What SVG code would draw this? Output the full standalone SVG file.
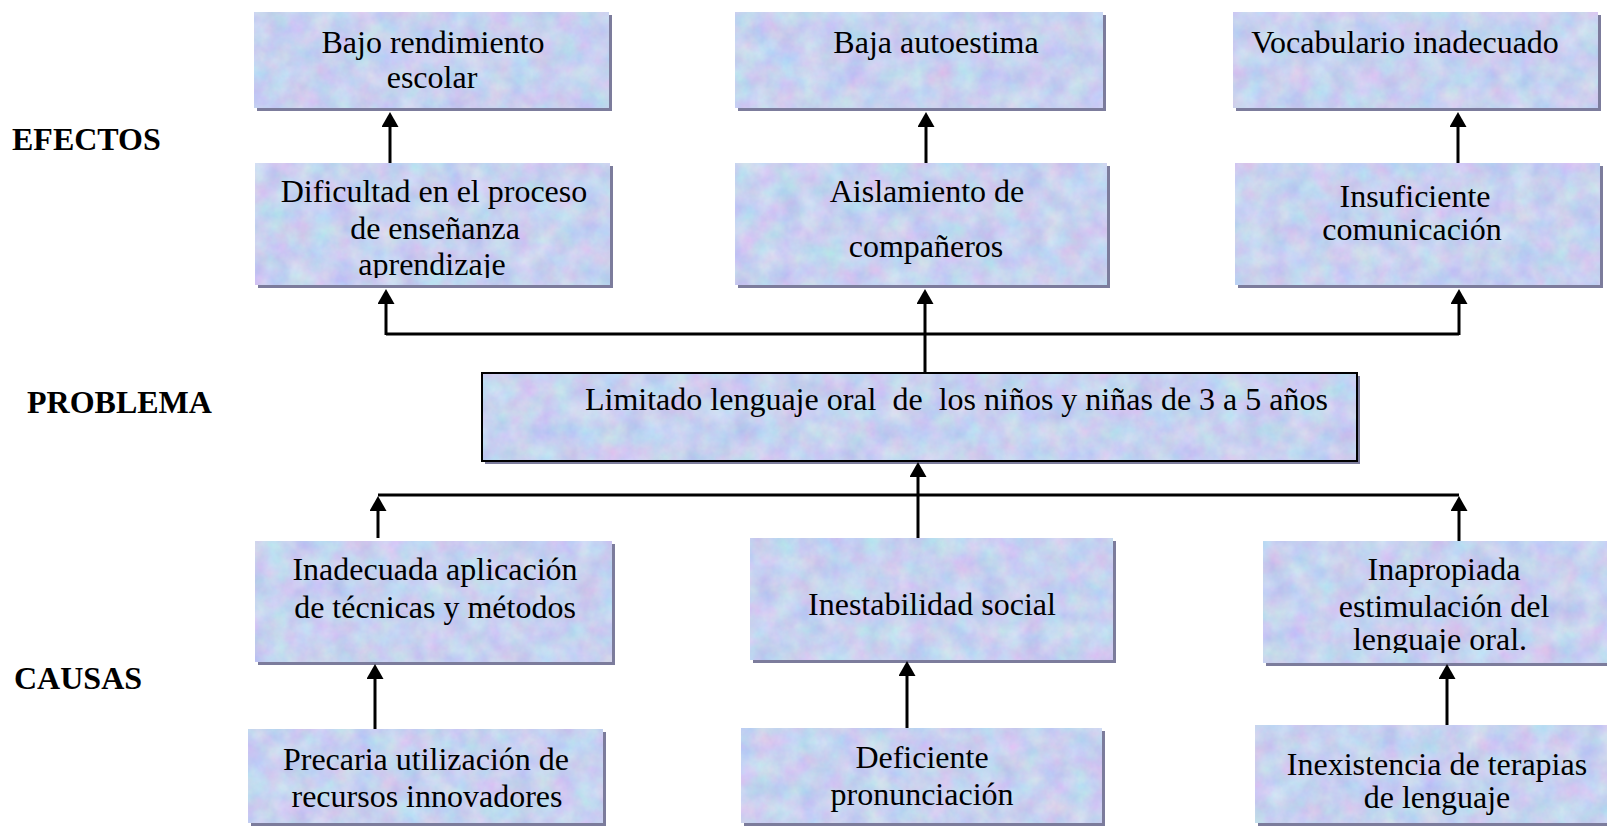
<svg xmlns="http://www.w3.org/2000/svg" width="1607" height="829" viewBox="0 0 1607 829">
<style>
.sh{fill:#7c7c9c}
.bx{stroke:#dcdcf6;stroke-width:1.5}
.pb{stroke:#000;stroke-width:2}
.t{font-family:"Liberation Serif","Times New Roman",serif;font-size:32px;fill:#000;text-anchor:middle}
.lb{font-family:"Liberation Serif","Times New Roman",serif;font-size:32px;font-weight:bold;fill:#000}
.ln{fill:none;stroke:#000;stroke-width:3}
.ar{fill:none;stroke:#000;stroke-width:3;marker-end:url(#ah)}
</style>
<defs>
<filter id="tex" filterUnits="objectBoundingBox" x="0" y="0" width="1" height="1" color-interpolation-filters="sRGB">
<feTurbulence type="fractalNoise" baseFrequency="0.045" numOctaves="4" seed="7"/>
<feColorMatrix type="matrix" values="0.22 0 0 0 0.67  0 0.2 0 0 0.72  0 0 0.08 0 0.9  0 0 0 0 1"/>
<feComposite in2="SourceGraphic" operator="in"/>
</filter>
<marker id="ah" markerUnits="userSpaceOnUse" markerWidth="15" markerHeight="17" viewBox="0 0 15 17" refX="4" refY="8.5" orient="auto">
<path d="M0,0 L15,8.5 L0,17 z" fill="#000"/>
</marker>
<clipPath id="cF1"><rect x="255" y="163" width="355" height="115"/></clipPath>
<clipPath id="cC3"><rect x="1263" y="541" width="360" height="112"/></clipPath>
</defs>
<rect width="1607" height="829" fill="#fff"/>

<g id="labels">
<text class="lb" x="12" y="150">EFECTOS</text>
<text class="lb" x="27" y="413">PROBLEMA</text>
<text class="lb" x="14" y="689">CAUSAS</text>
</g>

<g id="e1">
<rect class="sh" x="257" y="15" width="355" height="96"/>
<rect class="bx" x="254" y="12" width="355" height="96" fill="#c9d2f1" filter="url(#tex)"/>
<text class="t" x="433" y="53">Bajo rendimiento</text>
<text class="t" x="432" y="88">escolar</text>
</g>
<g id="e2">
<rect class="sh" x="738" y="15" width="368" height="96"/>
<rect class="bx" x="735" y="12" width="368" height="96" fill="#c9d2f1" filter="url(#tex)"/>
<text class="t" x="936" y="53">Baja autoestima</text>
</g>
<g id="e3">
<rect class="sh" x="1236" y="15" width="365" height="96"/>
<rect class="bx" x="1233" y="12" width="365" height="96" fill="#c9d2f1" filter="url(#tex)"/>
<text class="t" x="1405" y="53">Vocabulario inadecuado</text>
</g>

<g id="f1">
<rect class="sh" x="258" y="166" width="355" height="122"/>
<rect class="bx" x="255" y="163" width="355" height="122" fill="#c9d2f1" filter="url(#tex)"/>
<g clip-path="url(#cF1)">
<text class="t" x="434" y="202">Dificultad en el proceso</text>
<text class="t" x="435" y="239">de enseñanza</text>
<text class="t" x="432" y="275">aprendizaje</text>
</g>
</g>
<g id="f2">
<rect class="sh" x="738" y="166" width="372" height="122"/>
<rect class="bx" x="735" y="163" width="372" height="122" fill="#c9d2f1" filter="url(#tex)"/>
<text class="t" x="927" y="202">Aislamiento de</text>
<text class="t" x="926" y="257">compañeros</text>
</g>
<g id="f3">
<rect class="sh" x="1238" y="166" width="365" height="122"/>
<rect class="bx" x="1235" y="163" width="365" height="122" fill="#c9d2f1" filter="url(#tex)"/>
<text class="t" x="1415" y="207">Insuficiente</text>
<text class="t" x="1412" y="240">comunicación</text>
</g>

<g id="problema">
<rect class="sh" x="485" y="376" width="875" height="88"/>
<rect class="pb" x="482" y="373" width="875" height="88" fill="#c9d2f1" filter="url(#tex)"/>
<rect class="pb" x="482" y="373" width="875" height="88" fill="none"/>
<text class="t" x="585" y="410" style="text-anchor:start" xml:space="preserve">Limitado lenguaje oral  de  los niños y niñas de 3 a 5 años</text>
</g>

<g id="c1">
<rect class="sh" x="258" y="544" width="357" height="121"/>
<rect class="bx" x="255" y="541" width="357" height="121" fill="#c9d2f1" filter="url(#tex)"/>
<text class="t" x="435" y="580">Inadecuada aplicación</text>
<text class="t" x="435" y="618">de técnicas y métodos</text>
</g>
<g id="c2">
<rect class="sh" x="753" y="541" width="363" height="122"/>
<rect class="bx" x="750" y="538" width="363" height="122" fill="#c9d2f1" filter="url(#tex)"/>
<text class="t" x="932" y="615">Inestabilidad social</text>
</g>
<g id="c3">
<rect class="sh" x="1266" y="544" width="360" height="122"/>
<rect class="bx" x="1263" y="541" width="360" height="122" fill="#c9d2f1" filter="url(#tex)"/>
<g clip-path="url(#cC3)">
<text class="t" x="1444" y="580">Inapropiada</text>
<text class="t" x="1444" y="617">estimulación del</text>
<text class="t" x="1440" y="650">lenguaje oral.</text>
</g>
</g>

<g id="d1">
<rect class="sh" x="251" y="732" width="355" height="94"/>
<rect class="bx" x="248" y="729" width="355" height="94" fill="#c9d2f1" filter="url(#tex)"/>
<text class="t" x="426" y="770">Precaria utilización de</text>
<text class="t" x="427" y="807">recursos innovadores</text>
</g>
<g id="d2">
<rect class="sh" x="744" y="731" width="361" height="95"/>
<rect class="bx" x="741" y="728" width="361" height="95" fill="#c9d2f1" filter="url(#tex)"/>
<text class="t" x="922" y="768">Deficiente</text>
<text class="t" x="922" y="805">pronunciación</text>
</g>
<g id="d3">
<rect class="sh" x="1258" y="728" width="365" height="98"/>
<rect class="bx" x="1255" y="725" width="365" height="98" fill="#c9d2f1" filter="url(#tex)"/>
<text class="t" x="1437" y="775">Inexistencia de terapias</text>
<text class="t" x="1437" y="808">de lenguaje</text>
</g>

<g id="connectors">
<path class="ar" d="M390,163 V123"/>
<path class="ar" d="M926,163 V123"/>
<path class="ar" d="M1458,163 V123"/>
<path class="ln" d="M386,334 H1459"/>
<path class="ar" d="M386,335 V300"/>
<path class="ar" d="M1459,335 V300"/>
<path class="ar" d="M925,373 V300"/>
<path class="ln" d="M378,495 H1459"/>
<path class="ar" d="M378,538 V507"/>
<path class="ar" d="M1459,541 V507"/>
<path class="ar" d="M918,538 V473"/>
<path class="ar" d="M375,729 V675"/>
<path class="ar" d="M907,728 V672"/>
<path class="ar" d="M1447,725 V675"/>
</g>
</svg>
